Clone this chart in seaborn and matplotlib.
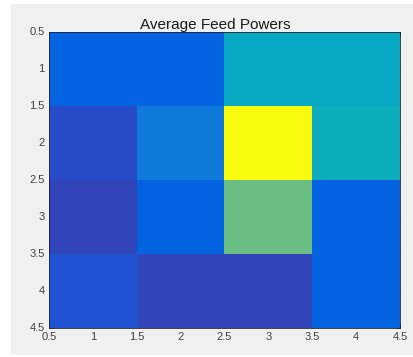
import numpy as np
import pandas as pd
import seaborn as sns
import matplotlib
matplotlib.use("Agg")
import matplotlib.pyplot as plt
from matplotlib.colors import LinearSegmentedColormap
from matplotlib.patches import Rectangle

# Average feed power per element of the 4x4 array (normalised)
row_1 = [0.14, 0.14, 0.38, 0.38]
row_2 = [0.09, 0.21, 1.00, 0.41]
row_3 = [0.075, 0.13, 0.57, 0.14]
row_4 = [0.095, 0.072, 0.072, 0.14]
tick_values = [0.5, 1, 1.5, 2, 2.5, 3, 3.5, 4, 4.5]

powers = pd.DataFrame([row_1, row_2, row_3, row_4])

# parula-style colormap
parula_pts = [
    (0.2081, 0.1663, 0.5292), (0.2123, 0.2138, 0.6270), (0.1959, 0.2645, 0.7279),
    (0.1253, 0.3242, 0.8303), (0.0117, 0.3875, 0.8820), (0.0165, 0.4266, 0.8786),
    (0.0498, 0.4586, 0.8641), (0.0723, 0.4887, 0.8467), (0.0793, 0.5200, 0.8312),
    (0.0641, 0.5570, 0.8240), (0.0343, 0.5966, 0.8199), (0.0239, 0.6287, 0.8038),
    (0.0228, 0.6535, 0.7768), (0.0384, 0.6743, 0.7436), (0.0843, 0.6928, 0.7062),
    (0.1453, 0.7098, 0.6646), (0.2178, 0.7250, 0.6193), (0.3022, 0.7376, 0.5712),
    (0.3953, 0.7459, 0.5244), (0.4871, 0.7491, 0.4840), (0.5709, 0.7485, 0.4494),
    (0.6473, 0.7456, 0.4188), (0.7184, 0.7411, 0.3905), (0.7858, 0.7356, 0.3633),
    (0.8507, 0.7299, 0.3360), (0.9139, 0.7258, 0.3063), (0.9739, 0.7314, 0.2666),
    (0.9990, 0.7653, 0.2164), (0.9880, 0.8066, 0.1794), (0.9697, 0.8481, 0.1475),
    (0.9589, 0.8949, 0.1132), (0.9661, 0.9514, 0.0755), (0.9763, 0.9831, 0.0538),
]
parula = LinearSegmentedColormap.from_list("parula", parula_pts, N=64)

sns.set_style("white")
plt.rcParams["font.family"] = ["Liberation Sans", "DejaVu Sans"]

fig = plt.figure(figsize=(4.14, 3.57), dpi=100, facecolor="white")
fig.patches.append(Rectangle((11 / 414, 2 / 357), 1, 351 / 357, transform=fig.transFigure,
                             facecolor="#f0f0f0", edgecolor="none", zorder=-10))
ax = fig.add_axes([49 / 414, 29 / 357, 351 / 414, 296 / 357])

sns.heatmap(powers, ax=ax, cmap=parula, vmin=0, vmax=1, cbar=False,
            square=False, linewidths=0)

pos = np.array(tick_values) - 0.5
ax.set_xticks(pos)
ax.set_yticks(pos)
ax.set_xticklabels([f"{v:g}" for v in tick_values], rotation=0)
ax.set_yticklabels([f"{v:g}" for v in tick_values], rotation=0)
ax.set_xlim(0, 4)
ax.set_ylim(4, 0)
ax.tick_params(direction="in", length=3, width=0.6, colors="#262626",
               labelcolor="#404040", labelsize=8, top=True, right=True,
               bottom=True, left=True, pad=3)
for s in ax.spines.values():
    s.set_visible(True)
    s.set_color("#262626")
    s.set_linewidth(0.6)
ax.set_xlabel("")
ax.set_ylabel("")
ax.set_title("Average Feed Powers", fontsize=11, color="#1a1a1a", pad=2, x=0.475)

fig.savefig("out.png", dpi=100, facecolor=fig.get_facecolor())
